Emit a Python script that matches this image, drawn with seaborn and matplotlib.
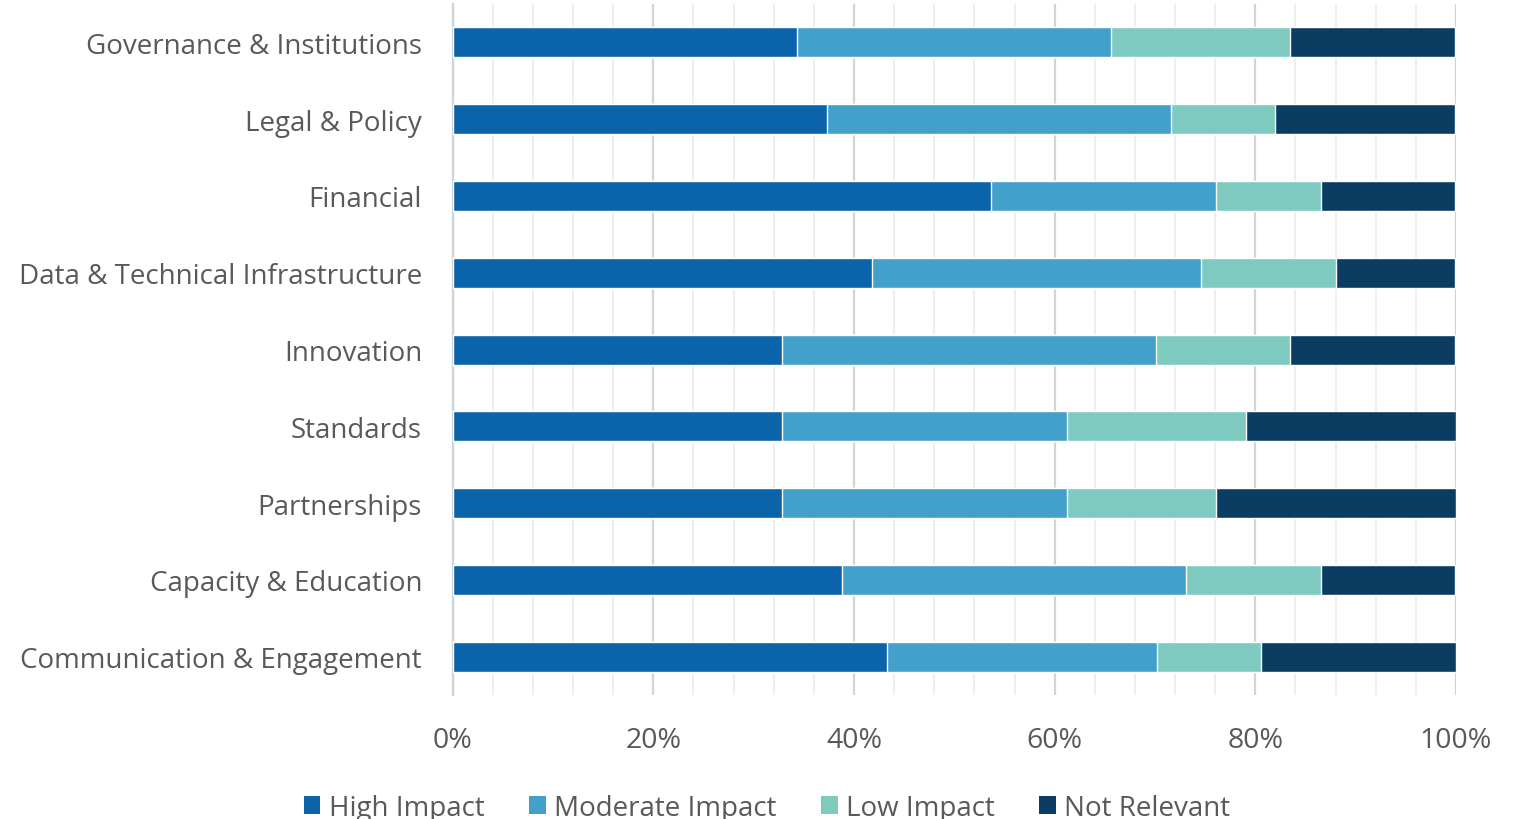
import numpy as np
import pandas as pd
import matplotlib
matplotlib.use("Agg")
import matplotlib.pyplot as plt
from matplotlib.patches import Patch
from matplotlib.ticker import MultipleLocator, PercentFormatter
import seaborn as sns

# values, percent of respondents
categories = [
    "Governance & Institutions",
    "Legal & Policy",
    "Financial",
    "Data & Technical Infrastructure",
    "Innovation",
    "Standards",
    "Partnerships",
    "Capacity & Education",
    "Communication & Engagement",
]
high_impact = [34.3, 37.3, 53.7, 41.8, 32.8, 32.8, 32.8, 38.8, 43.3]
moderate_impact = [31.3, 34.3, 22.4, 32.8, 37.3, 28.4, 28.4, 34.3, 26.9]
low_impact = [17.9, 10.4, 10.4, 13.4, 13.4, 17.9, 14.9, 13.4, 10.4]
not_relevant = [16.4, 17.9, 13.4, 11.9, 16.4, 20.9, 23.9, 13.4, 19.4]

series_names = ["High Impact", "Moderate Impact", "Low Impact", "Not Relevant"]
series_colors = ["#0B64A9", "#43A0CB", "#7ECAC0", "#0B3D63"]

df = pd.DataFrame({
    "category": categories,
    "High Impact": high_impact,
    "Moderate Impact": moderate_impact,
    "Low Impact": low_impact,
    "Not Relevant": not_relevant,
})

sns.set_theme(style="white")
plt.rcParams["font.family"] = ["Open Sans", "DejaVu Sans"]
text_color = "#595959"

fig = plt.figure(figsize=(15.19, 8.2), dpi=100)
ax = fig.add_axes([0.298, 0.151, 0.6605, 0.843])

# stacked bars: draw cumulative totals from the widest down
cum = df[series_names].cumsum(axis=1)
for name, color in reversed(list(zip(series_names, series_colors))):
    sns.barplot(x=cum[name], y=df["category"], orient="h", color=color,
                width=0.39, saturation=1, ax=ax, zorder=3)

ax.set_xlim(0, 100)
ax.set_ylim(8.5, -0.5)
ax.xaxis.set_major_locator(MultipleLocator(20))
ax.xaxis.set_minor_locator(MultipleLocator(4))
ax.xaxis.set_major_formatter(PercentFormatter(decimals=0))
ax.grid(True, which="major", axis="x", color="#D4D4D4", linewidth=1.6, zorder=0)
ax.grid(True, which="minor", axis="x", color="#EBEBEB", linewidth=1.2, zorder=0)
ax.set_axisbelow(True)
ax.set_xlabel("")
ax.set_ylabel("")

for side in ["top", "right", "bottom"]:
    ax.spines[side].set_visible(False)
ax.spines["left"].set_color("#D4D4D4")
ax.spines["left"].set_linewidth(1.6)

ax.tick_params(axis="x", which="both", length=0, pad=22, labelsize=20.5, labelcolor=text_color)
ax.tick_params(axis="y", length=0, pad=22, labelsize=20, labelcolor=text_color)

handles = [Patch(facecolor=c, edgecolor="none", label=n) for n, c in zip(series_names, series_colors)]
fig.legend(handles=handles, loc="center", bbox_to_anchor=(0.505, 0.014), ncol=4,
           frameon=False, fontsize=20, labelcolor=text_color, handlelength=0.6,
           handleheight=0.6, handletextpad=0.3, columnspacing=1.6)

fig.savefig("out.png", dpi=100)
